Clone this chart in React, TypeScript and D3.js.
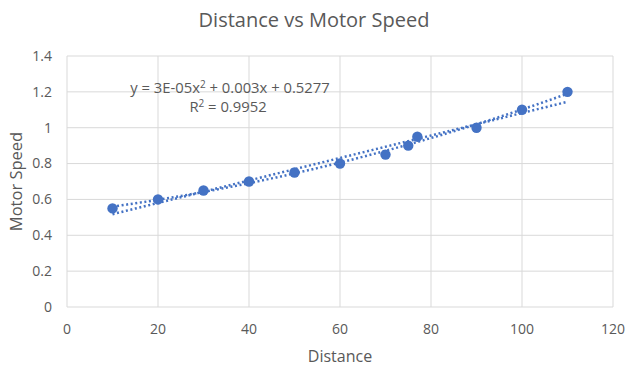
import * as d3 from 'd3'

const distance = [10, 20, 30, 40, 50, 60, 70, 75, 77, 90, 100, 110]
const motorSpeed = [0.55, 0.6, 0.65, 0.7, 0.75, 0.8, 0.85, 0.9, 0.95, 1.0, 1.1, 1.2]
const xTicks = [0, 20, 40, 60, 80, 100, 120]
const yTicks = [0, 0.2, 0.4, 0.6, 0.8, 1, 1.2, 1.4]

const W = 629
const H = 368
const BLUE = '#4472c4'
const GRID = '#d9d9d9'
const TEXT = '#595959'
const FONT = '"Open Sans", "Noto Sans", sans-serif'

// least squares fits (Excel trendlines)
function linearFit(xs: number[], ys: number[]) {
  const mx = d3.mean(xs)!
  const my = d3.mean(ys)!
  const sxy = d3.sum(xs, (x, i) => (x - mx) * (ys[i] - my))
  const sxx = d3.sum(xs, (x) => (x - mx) * (x - mx))
  const b = sxy / sxx
  return (x: number) => my + b * (x - mx)
}

function quadFit(xs: number[], ys: number[]) {
  // normal equations, 3x3
  const s = (p: number) => d3.sum(xs, (x) => Math.pow(x, p))
  const t = (p: number) => d3.sum(xs, (x, i) => Math.pow(x, p) * ys[i])
  const A = [
    [s(0), s(1), s(2), t(0)],
    [s(1), s(2), s(3), t(1)],
    [s(2), s(3), s(4), t(2)],
  ]
  for (let i = 0; i < 3; i++) {
    for (let k = i + 1; k < 3; k++) {
      const f = A[k][i] / A[i][i]
      for (let j = i; j < 4; j++) A[k][j] -= f * A[i][j]
    }
  }
  const c = [0, 0, 0]
  for (let i = 2; i >= 0; i--) {
    let v = A[i][3]
    for (let j = i + 1; j < 3; j++) v -= A[i][j] * c[j]
    c[i] = v / A[i][i]
  }
  return (x: number) => c[0] + c[1] * x + c[2] * x * x
}

export default function App() {
  const x = d3.scaleLinear().domain([0, 120]).range([67, 613])
  const y = d3.scaleLinear().domain([0, 1.4]).range([307, 56])

  const lin = linearFit(distance, motorSpeed)
  const quad = quadFit(distance, motorSpeed)
  const xs = d3.range(10, 110.01, 1)
  const linPath = d3
    .line<number>()
    .x((d) => x(d))
    .y((d) => y(lin(d)))(xs) ?? ''
  const quadPath = d3
    .line<number>()
    .x((d) => x(d))
    .y((d) => y(quad(d)))(xs) ?? ''

  return (
    <svg
      width={W}
      height={H}
      style={{ position: 'absolute', left: 0, top: 0, background: '#fff' }}
      fontFamily={FONT}
    >
      <rect width={W} height={H} fill="#fff" />
      {yTicks.map((t) => (
        <g key={'y' + t}>
          <line x1={x(0)} x2={x(120)} y1={y(t)} y2={y(t)} stroke={GRID} strokeWidth={1} />
          <text x={52} y={y(t)} dy="0.35em" textAnchor="end" fontSize={14} fill={TEXT}>
            {t}
          </text>
        </g>
      ))}
      {xTicks.map((t) => (
        <g key={'x' + t}>
          <line x1={x(t)} x2={x(t)} y1={y(0)} y2={y(1.4)} stroke={GRID} strokeWidth={1} />
          <text x={x(t)} y={329} dy="0.35em" textAnchor="middle" fontSize={14} fill={TEXT}>
            {t}
          </text>
        </g>
      ))}
      <path d={linPath} fill="none" stroke={BLUE} strokeWidth={2.5} strokeDasharray="2 2.6" />
      <path d={quadPath} fill="none" stroke={BLUE} strokeWidth={2.5} strokeDasharray="2 2.6" />
      {distance.map((d, i) => (
        <circle key={i} cx={x(d)} cy={y(motorSpeed[i])} r={5.2} fill={BLUE} />
      ))}
      <text x={230} y={88} dy="0.35em" textAnchor="middle" fontSize={14.8} fill={TEXT}>
        y = 3E-05x<tspan dy="-5" fontSize={10}>2</tspan>
        <tspan dy="5"> + 0.003x + 0.5277</tspan>
      </text>
      <text x={228} y={107} dy="0.35em" textAnchor="middle" fontSize={14.8} fill={TEXT}>
        R<tspan dy="-5" fontSize={10}>2</tspan>
        <tspan dy="5"> = 0.9952</tspan>
      </text>
      <text x={314} y={20} dy="0.35em" textAnchor="middle" fontSize={20} fill={TEXT}>
        Distance vs Motor Speed
      </text>
      <text x={340} y={356} dy="0.35em" textAnchor="middle" fontSize={16} fill={TEXT}>
        Distance
      </text>
      <text
        transform={`translate(16,${y(0.7)}) rotate(-90)`}
        dy="0.35em"
        textAnchor="middle"
        fontSize={16.5}
        fill={TEXT}
      >
        Motor Speed
      </text>
    </svg>
  )
}
